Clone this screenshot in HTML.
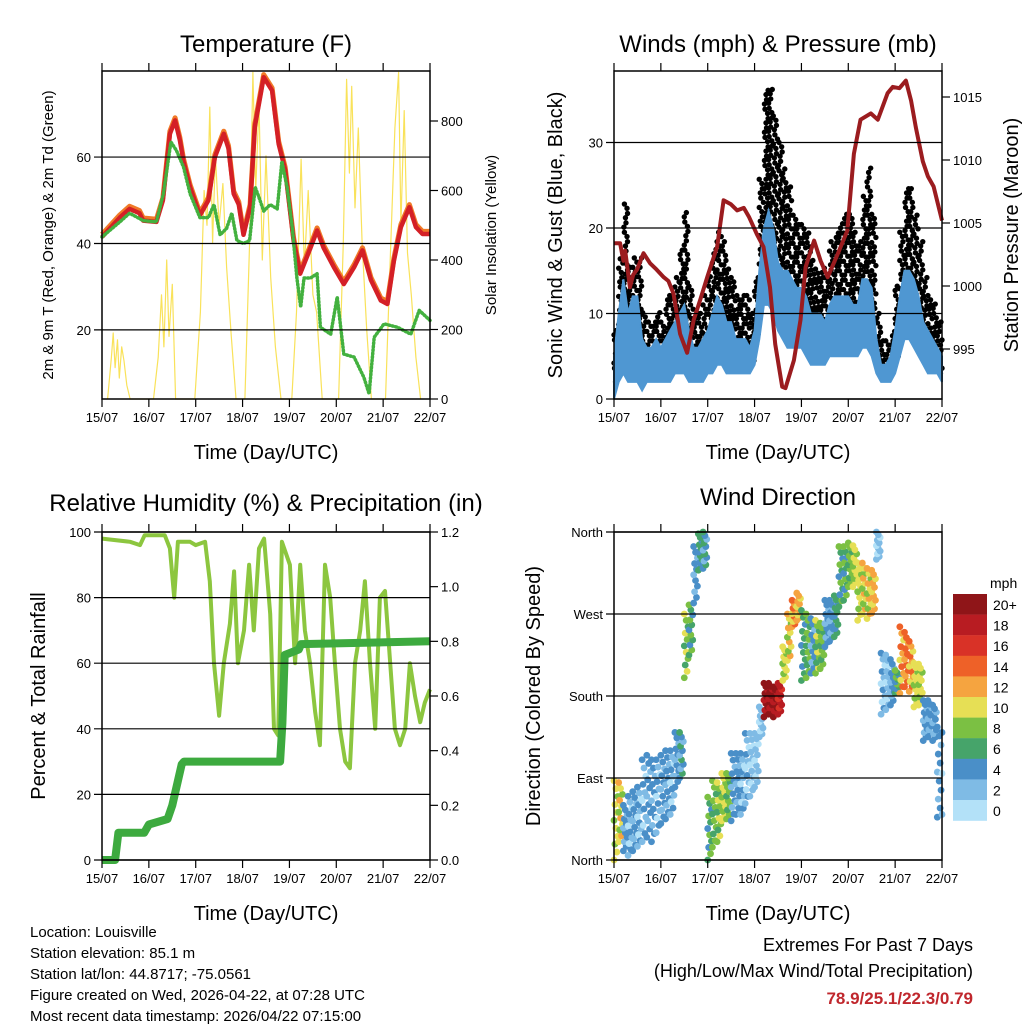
<!DOCTYPE html>
<html><head><meta charset="utf-8"><style>
html,body{margin:0;padding:0;background:#fff;}
svg text{font-family:"Liberation Sans",sans-serif;fill:#000;}
</style></head><body>
<svg id="c" xmlns="http://www.w3.org/2000/svg" width="1024" height="1024" viewBox="0 0 1024 1024">
<rect width="1024" height="1024" fill="#fff"/>
<g id="g1"></g>
<g id="g2"></g>
<g id="g3"></g>
<g id="g4"></g>
<g font-size="15">
<text x="30" y="937">Location: Louisville</text>
<text x="30" y="958">Station elevation: 85.1 m</text>
<text x="30" y="979">Station lat/lon: 44.8717; -75.0561</text>
<text x="30" y="1000">Figure created on Wed, 2026-04-22, at 07:28 UTC</text>
<text x="30" y="1021">Most recent data timestamp: 2026/04/22 07:15:00</text>
</g>
<g text-anchor="end">
<text x="973" y="951" font-size="18">Extremes For Past 7 Days</text>
<text x="973" y="977" font-size="18">(High/Low/Max Wind/Total Precipitation)</text>
<text x="973" y="1004" font-size="17" font-weight="bold" style="fill:#c0272d">78.9/25.1/22.3/0.79</text>
</g>
</svg>
<script>
// ---------- data ----------
const dayLabels = ["15/07","16/07","17/07","18/07","19/07","20/07","21/07","22/07"];
const tempT = [15.0,15.38,15.59,15.8,15.88,16.16,16.3,16.45,16.56,16.66,16.74,16.88,17.09,17.27,17.41,17.6,17.7,17.81,17.92,18.02,18.16,18.26,18.45,18.63,18.77,18.91,19.09,19.23,19.45,19.59,19.73,19.95,20.16,20.38,20.56,20.74,20.95,21.09,21.23,21.38,21.56,21.7,21.84,22.0];
const tempV = [41.5,46,48,47,45.3,45,50,65.4,68.5,64,59,53,46.5,50,60,65.4,62,51.5,49,42,48.4,67,78.5,75.4,63,57,40.7,33,39,43,39,34.5,30.6,34.5,38.4,31.5,26.8,26,36,43.8,48.4,43.8,42.2,42.2];
const dewT = [15.0,15.38,15.59,15.88,16.16,16.31,16.47,16.59,16.74,16.88,17.09,17.27,17.39,17.52,17.66,17.77,17.88,18.02,18.15,18.27,18.34,18.45,18.59,18.74,18.84,18.95,19.06,19.16,19.24,19.31,19.45,19.59,19.66,19.88,20.02,20.16,20.38,20.59,20.7,20.81,21.02,21.31,21.59,21.77,22.0];
const dewV = [41.5,45,47,45.3,45,51.5,63.5,61.5,57.7,51.5,46,46,49,42,43.5,47,40.7,40,40.7,53,51,47.5,49,48,59,53,43.8,32,25.3,32,32,33,20.6,19,27.6,14.4,13.7,9,5.2,18.3,21.4,20.6,19,24.5,22.2];
const solarT = [15.12,15.2,15.24,15.28,15.33,15.37,15.42,15.47,15.53,15.6, 16.1,16.2,16.27,16.32,16.38,16.43,16.5,16.57, 16.98,17.1,17.18,17.24,17.3,17.36,17.42,17.5,17.58,17.66,17.76,17.86, 18.05,18.15,18.22,18.28,18.35,18.42,18.5,18.6,18.7,18.82, 19.05,19.15,19.25,19.32,19.4,19.5,19.58,19.7, 20.05,20.15,20.22,20.28,20.33,20.4,20.47,20.55,20.65,20.75, 21.05,21.15,21.25,21.33,21.38,21.45,21.52,21.6,21.7,21.8];
const solarV = [0,120,190,90,170,60,150,110,40,0, 0,120,300,150,400,180,330,0, 0,250,600,500,840,450,700,500,620,380,180,0, 0,450,940,600,850,400,700,350,150,0, 0,250,690,380,600,300,250,0, 0,450,920,650,900,550,780,450,200,0, 0,400,780,940,500,830,420,300,120,0];

const presT = [15.0,15.13,15.2,15.24,15.34,15.41,15.49,15.63,15.77,15.91,16.06,16.16,16.27,16.41,16.56,16.7,16.84,16.99,17.2,17.34,17.49,17.63,17.77,17.88,18.05,18.19,18.33,18.44,18.59,18.66,18.84,18.98,19.09,19.27,19.41,19.56,19.77,19.98,20.12,20.26,20.48,20.63,20.84,20.95,21.09,21.23,21.34,21.44,21.59,21.7,21.82,22.0];
const presV = [1003.4,1003.4,1002,1002.8,999.9,1000.9,1001.3,1002.6,1001.8,1001.3,1000.7,1000.4,999.4,996.2,994.7,997.3,998.9,1000.7,1003.1,1006.8,1006.5,1006,1006.2,1005.5,1004.1,1003.1,999.9,995.4,992,991.9,994.1,997.3,1001.5,1003.6,1002,1000.7,1002.5,1004.4,1010.5,1013.2,1013.7,1013.2,1015.3,1015.8,1015.7,1016.3,1014.7,1012.6,1009.9,1008.7,1007.9,1005.2];
const windLo = [0,2,3,2,2,2,1,2,2,2,2,2,2,3,3,3,2,2,2,2,3,3,4,4,3,3,3,3,3,3,4,7,11,11,10,8,7,6,6,6,6,5,4,4,4,4,5,5,5,5,5,5,5,6,6,5,3,2,2,2,3,5,7,7,6,5,4,3,3,3,2];
const windHi = [5,10,14,10,12,12,7,6,6,7,6,7,8,9,10,11,8,6,6,7,8,10,12,11,9,9,7,7,7,6,8,15,20,22,20,16,15,15,14,13,13,12,10,10,10,9,11,12,12,12,12,11,11,14,14,13,7,4,4,5,8,12,15,15,14,12,9,8,7,6,5];
const gustLo = [2,6,8,5,5,5,3,3,3,3,3,5,5,6,7,7,5,4,4,5,5,6,8,8,7,6,5,5,5,4,6,12,18,17,15,13,11,10,10,10,10,9,8,7,6,6,8,9,9,9,9,8,8,10,10,9,4,3,3,3,5,8,12,12,10,8,6,5,4,3,2];
const gustHi = [8,16,23,15,17,17,10,9,9,10,9,12,12,14,17,22,13,10,10,12,14,18,20,18,15,14,12,12,12,10,14,26,36,36,33,30,27,25,22,20,20,19,16,15,15,14,18,20,21,22,22,19,18,24,27,22,10,7,7,8,13,20,25,25,22,18,14,12,11,9,7];
const rhT = [15.0,15.6,15.81,15.91,16.0,16.34,16.45,16.54,16.62,16.88,17.0,17.2,17.3,17.39,17.5,17.6,17.73,17.82,17.9,18.03,18.14,18.24,18.35,18.46,18.59,18.67,18.76,18.84,19.01,19.12,19.23,19.33,19.44,19.55,19.65,19.76,19.87,19.97,20.08,20.19,20.29,20.4,20.51,20.61,20.72,20.83,20.93,21.04,21.15,21.25,21.36,21.47,21.57,21.68,21.79,21.89,22.0];
const rhV = [98,97,96,99,99,99,95,80,97,97,96,97,85,60,44,60,72,88,60,70,90,70,95,98,75,40,38,97,90,60,90,70,60,45,35,90,80,60,40,30,28,60,70,85,60,40,80,82,60,40,35,40,60,50,42,48,52];
const rainT = [15.0,15.28,15.35,15.9,16.0,16.4,16.5,16.7,16.75,18.8,18.85,18.9,19.2,19.25,22.0];
const rainV = [0,0,0.1,0.1,0.13,0.15,0.2,0.35,0.36,0.36,0.5,0.75,0.77,0.79,0.8];
const dirLo = [0,20,10,5,10,15,20,25,20,30,40,45,50,80,90,200,225,282,318,320,0,14,20,43,45,43,50,50,62,70,80,135,157,160,157,160,197,219,256,263,197,200,205,205,210,234,240,245,278,285,300,300,263,270,265,271,330,160,165,170,183,183,190,185,168,170,131,135,131,47,50];
const dirHi = [87,85,60,70,75,80,110,115,110,110,115,120,120,140,140,270,280,344,358,360,69,87,85,95,95,117,117,117,139,139,139,168,194,194,190,194,234,270,285,293,274,270,265,263,260,285,285,290,344,344,348,345,326,326,320,318,360,227,225,220,208,256,250,240,216,215,175,175,170,146,140];
const dirSpd = [10,11,4,3,4,3,3,4,4,3,4,4,3,4,5,9,7,4,6,5,7,8,9,10,8,4,4,3,3,2,2,2,21,21,20,18,10,11,13,12,6,8,4,9,8,4,4,6,7,7,8,10,10,11,11,12,2,3,2,4,7,13,14,13,10,10,4,4,4,4,3];
const cbLabels = ["20+","18","16","14","12","10","8","6","4","2","0"];
const cbColors = ["#8f1518","#b81c22","#d93227","#ee6128","#f5a440","#e6df55","#7bc043","#46a46a","#4a8fc8","#7fbbe5","#b3e1f8"];

// ---------- helpers ----------
const NS="http://www.w3.org/2000/svg";
function el(parent,tag,attrs,txt){const e=document.createElementNS(NS,tag);for(const k in attrs)e.setAttribute(k,attrs[k]);if(txt!==undefined)e.textContent=txt;parent.appendChild(e);return e;}
function pts(xs,ys,fx,fy){return xs.map((t,i)=>fx(t).toFixed(1)+","+fy(ys[i]).toFixed(1)).join(" ");}
function frame(g,x0,y0,x1,y1,yTicks,yLabels,yFn,rTicks,rLabels,rFn,fx){
  yTicks.forEach((v,i)=>{const y=yFn(v);
    const gl=el(g,"line",{x1:x0-8,y1:y,x2:x1,y2:y,stroke:"#000","stroke-width":1.2});
    
    const t=el(g,"text",{x:x0-11,y:y+5,"font-size":13,"text-anchor":"end"},yLabels[i]);
    });
  if(rTicks) rTicks.forEach((v,i)=>{const y=rFn(v);
    el(g,"line",{x1:x1,y1:y,x2:x1+8,y2:y,stroke:"#000","stroke-width":1.2});
    const t=el(g,"text",{x:x1+11,y:y+5,"font-size":13},rLabels[i]);
    });
  for(let d=0;d<8;d++){const x=fx(15+d);
    el(g,"line",{x1:x,y1:y1,x2:x,y2:y1+8,stroke:"#000","stroke-width":1.2});
    el(g,"line",{x1:x,y1:y0-8,x2:x,y2:y0,stroke:"#000","stroke-width":1.2});
    const t=el(g,"text",{x:x,y:y1+23,"font-size":13,"text-anchor":"middle"},dayLabels[d]);
    }
  const b=el(g,"rect",{x:x0,y:y0,width:x1-x0,height:y1-y0,fill:"none",stroke:"#000","stroke-width":1.5});
  
  const xl=el(g,"text",{x:(x0+x1)/2,y:y1+60,"font-size":20,"text-anchor":"middle"},"Time (Day/UTC)");
  
}
function title(g,x,y,s){const t=el(g,"text",{x:x,y:y,"font-size":24,"text-anchor":"middle"},s);}
function vlabel(g,x,y,s,fs,name){const t=el(g,"text",{x:0,y:0,"font-size":fs,"text-anchor":"middle",transform:`translate(${x},${y}) rotate(-90)`},s);}

// ---------- panel 1: temperature ----------
(function(){
const g=document.getElementById("g1");
const X=d=>102+(d-15)*46.857, Y=v=>399-(v-4)*4.32, YS=v=>399-v*0.3475;
title(g,266,52,"Temperature (F)");
const sol=el(g,"polyline",{points:pts(solarT,solarV,X,YS),fill:"none",stroke:"#f9e25a","stroke-width":1.2,"stroke-linejoin":"round"});

const o=el(g,"polyline",{points:pts(tempT,tempV.map(v=>v+0.6),X,Y),fill:"none",stroke:"#f07a28","stroke-width":5,"stroke-linejoin":"round"});

const r=el(g,"polyline",{points:pts(tempT,tempV,X,Y),fill:"none",stroke:"#d42026","stroke-width":4.5,"stroke-linejoin":"round"});

const dw=el(g,"polyline",{points:pts(dewT,dewV,X,Y),fill:"none",stroke:"#43b13f","stroke-width":3.5,"stroke-dasharray":"1 2.5","stroke-linecap":"round","stroke-linejoin":"round"});

frame(g,102,71,430,399,[20,40,60],["20","40","60"],Y,[0,200,400,600,800],["0","200","400","600","800"],YS,X);
vlabel(g,53,235,"2m & 9m T (Red, Orange) & 2m Td (Green)",15,"y-axis-title");
vlabel(g,496,235,"Solar Insolation (Yellow)",15,"right-axis-title");
})();

// ---------- panel 2: winds ----------
(function(){
const g=document.getElementById("g2");
const X=d=>614+(d-15)*46.857, Y=v=>399-v*8.55, YP=p=>349-(p-995)*12.6;
title(g,778,52,"Winds (mph) & Pressure (mb)");
const T=windLo.map((_,i)=>15+i*0.1);
for(let i=0;i<T.length;i++){
  let n=0;
  for(let v=gustLo[i];v<=gustHi[i];v+=1.1){
    n++;
    for(let k=0;k<2;k++){
      const off=((i*5+n*3+k*4)%9)/9*0.1;
      const t=T[i]+off; if(t>22) continue;
      const c=el(g,"circle",{cx:X(t),cy:Y(v+k*0.5),r:2.7,fill:"#000"});
      
    }
  }
}
const band=T.map((t,i)=>X(t).toFixed(1)+","+Y(windHi[i]).toFixed(1)).concat(T.map((t,i)=>X(t).toFixed(1)+","+Y(windLo[i]).toFixed(1)).reverse()).join(" ");
const w=el(g,"polygon",{points:band,fill:"#4f97d2",stroke:"#4f97d2","stroke-width":2});

const p=el(g,"polyline",{points:pts(presT,presV,X,YP),fill:"none",stroke:"#9b1c1f","stroke-width":4,"stroke-linejoin":"round"});

frame(g,614,71,942,399,[0,10,20,30],["0","10","20","30"],Y,[995,1000,1005,1010,1015],["995","1000","1005","1010","1015"],YP,X);
vlabel(g,562,235,"Sonic Wind & Gust (Blue, Black)",20,"y-axis-title");
vlabel(g,1018,235,"Station Pressure (Maroon)",20,"right-axis-title");
})();

// ---------- panel 3: humidity ----------
(function(){
const g=document.getElementById("g3");
const X=d=>102+(d-15)*46.857, Y=v=>860-v*3.28, YQ=p=>860-p/1.2*328;
title(g,266,511,"Relative Humidity (%) & Precipitation (in)");
const rh=el(g,"polyline",{points:pts(rhT,rhV,X,Y),fill:"none",stroke:"#8cc63f","stroke-width":4,"stroke-linejoin":"round"});

const rn=el(g,"polyline",{points:pts(rainT,rainV,X,YQ),fill:"none",stroke:"#3daa3f","stroke-width":8,"stroke-linejoin":"round"});

frame(g,102,532,430,860,[0,20,40,60,80,100],["0","20","40","60","80","100"],Y,[0,0.2,0.4,0.6,0.8,1.0,1.2],["0.0","0.2","0.4","0.6","0.8","1.0","1.2"],YQ,X);
vlabel(g,45,696,"Percent & Total Rainfall",20,"y-axis-title");
})();

// ---------- panel 4: wind direction ----------
(function(){
const g=document.getElementById("g4");
const X=d=>614+(d-15)*46.857, Y=v=>860-v/360*328;
title(g,778,505,"Wind Direction");
const col=s=>cbColors[10-Math.min(10,Math.max(0,Math.floor(s/2)))];
for(let i=0;i<dirLo.length;i++){
  for(let k=0;k<11;k++){const t=15+i*0.1+((k*3)%5)*0.02;if(t>22.01)continue;
    const v=dirLo[i]+(dirHi[i]-dirLo[i])*k/10;
    const c=el(g,"circle",{cx:X(t),cy:Y(v),r:3.4,fill:col(dirSpd[i]+(k%3===1?1.5:(k%3===2?-1.5:0)))});
    }
}
frame(g,614,532,942,860,[0,90,180,270,360],["North","East","South","West","North"],Y,null,null,null,X);
vlabel(g,540,696,"Direction (Colored By Speed)",20,"y-axis-title");
const cb=el(g,"g",{});
el(cb,"text",{x:990,y:588,"font-size":14},"mph");
cbColors.forEach((c,i)=>{const y=594+i*20.6;
  const r=el(cb,"rect",{x:953,y:y,width:34,height:20.8,fill:c});
  
  const t=el(cb,"text",{x:993,y:y+16,"font-size":14},cbLabels[i]);
  });
})();
</script>
</body></html>
